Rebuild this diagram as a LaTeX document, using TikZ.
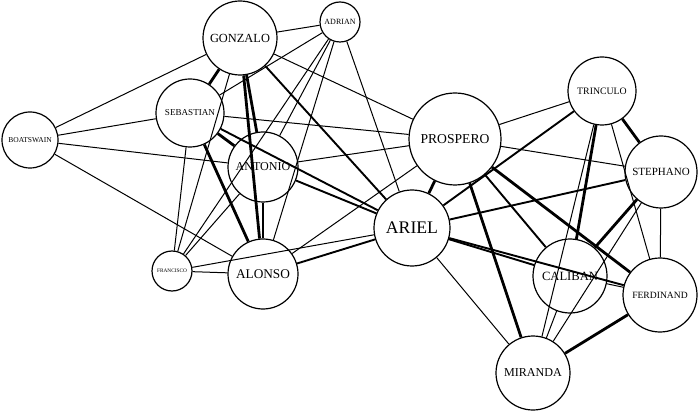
\documentclass[tikz,border=0pt]{standalone}
\usepackage{fontspec}
\setmainfont{Liberation Serif}
\newcommand{\charsize}[1]{\fontsize{#1}{#1}\selectfont}

\tikzset{
  actor/.style={circle, draw, line width=1.2pt, inner sep=0pt, minimum size=#1},
  weak/.style={line width=1pt},
  mid/.style={line width=1.9pt},
  strong/.style={line width=2.8pt}
}

\begin{document}
\begin{tikzpicture}[x=1pt, y=-1pt]
  \useasboundingbox (0,0) rectangle (700,411);

  % characters
  \node[actor=56pt, font=\charsize{7.5}] (boatswain) at (30,140) {BOATSWAIN};
  \node[actor=74pt, font=\charsize{12.4}] (gonzalo) at (240,38) {GONZALO};
  \node[actor=40pt, font=\charsize{8}] (adrian) at (340,22) {ADRIAN};
  \node[actor=68pt, font=\charsize{9.1}] (sebastian) at (190,113) {SEBASTIAN};
  \node[actor=70pt, font=\charsize{12.1}] (antonio) at (263,167) {ANTONIO};
  \node[actor=40pt, font=\charsize{5.3}] (francisco) at (172,271) {FRANCISCO};
  \node[actor=70pt, font=\charsize{13.3}] (alonso) at (263,274) {ALONSO};
  \node[actor=92pt, font=\charsize{13.6}] (prospero) at (455,139) {PROSPERO};
  \node[actor=76pt, font=\charsize{17.7}] (ariel) at (412,228) {ARIEL};
  \node[actor=68pt, font=\charsize{9.8}] (trinculo) at (602,91) {TRINCULO};
  \node[actor=72pt, font=\charsize{11}] (stephano) at (661,172) {STEPHANO};
  \node[actor=74pt, font=\charsize{12.6}] (caliban) at (570,276) {CALIBAN};
  \node[actor=74pt, font=\charsize{9.6}] (ferdinand) at (660,295) {FERDINAND};
  \node[actor=74pt, font=\charsize{12.1}] (miranda) at (533,373) {MIRANDA};

  % court party
  \draw[weak] (boatswain) -- (gonzalo);
  \draw[weak] (boatswain) -- (sebastian);
  \draw[weak] (boatswain) -- (antonio);
  \draw[weak] (boatswain) -- (alonso);
  \draw[weak] (gonzalo) -- (adrian);
  \draw[strong] (gonzalo) -- (sebastian);
  \draw[strong] (gonzalo) -- (antonio);
  \draw[strong] (gonzalo) -- (alonso);
  \draw[weak] (gonzalo) -- (francisco);
  \draw[weak] (gonzalo) -- (prospero);
  \draw[mid] (gonzalo) -- (ariel);
  \draw[weak] (adrian) -- (sebastian);
  \draw[weak] (adrian) -- (antonio);
  \draw[weak] (adrian) -- (francisco);
  \draw[weak] (adrian) -- (alonso);
  \draw[weak] (adrian) -- (ariel);
  \draw[strong] (sebastian) -- (antonio);
  \draw[weak] (sebastian) -- (francisco);
  \draw[strong] (sebastian) -- (alonso);
  \draw[weak] (sebastian) -- (prospero);
  \draw[mid] (sebastian) -- (ariel);
  \draw[weak] (antonio) -- (francisco);
  \draw[strong] (antonio) -- (alonso);
  \draw[weak] (antonio) -- (prospero);
  \draw[mid] (antonio) -- (ariel);
  \draw[weak] (francisco) -- (alonso);
  \draw[weak] (francisco) -- (ariel);
  \draw[weak] (alonso) -- (prospero);
  \draw[mid] (alonso) -- (ariel);

  % island
  \draw[strong] (prospero) -- (ariel);
  \draw[weak] (prospero) -- (trinculo);
  \draw[weak] (prospero) -- (stephano);
  \draw[mid] (prospero) -- (caliban);
  \draw[strong] (prospero) -- (ferdinand);
  \draw[strong] (prospero) -- (miranda);
  \draw[mid] (ariel) -- (trinculo);
  \draw[mid] (ariel) -- (stephano);
  \draw[mid] (ariel) -- (caliban);
  \draw[mid] (ariel) -- (ferdinand);
  \draw[weak] (ariel) -- (miranda);
  \draw[strong] (trinculo) -- (stephano);
  \draw[strong] (trinculo) -- (caliban);
  \draw[weak] (trinculo) -- (miranda);
  \draw[weak] (trinculo) -- (ferdinand);
  \draw[strong] (stephano) -- (caliban);
  \draw[weak] (stephano) -- (ferdinand);
  \draw[weak] (stephano) -- (miranda);
  \draw[weak] (caliban) -- (ferdinand);
  \draw[weak] (caliban) -- (miranda);
  \draw[strong] (ferdinand) -- (miranda);
\end{tikzpicture}
\end{document}
